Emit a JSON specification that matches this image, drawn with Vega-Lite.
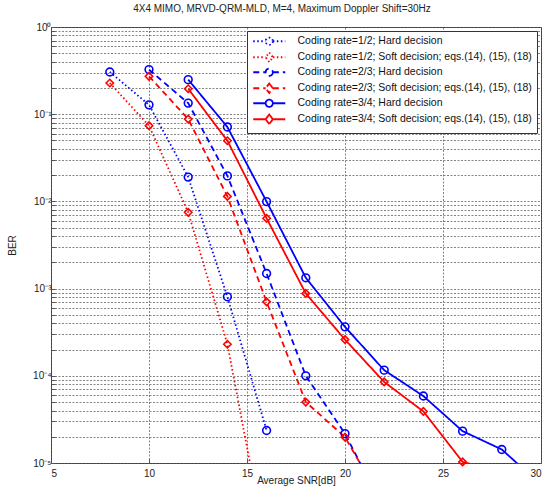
{
  "$schema": "https://vega.github.io/schema/vega-lite/v6.json",
  "width": 490,
  "height": 436,
  "autosize": {"type": "none"},
  "padding": {"left": 51, "top": 27, "right": 7, "bottom": 29},
  "background": "white",
  "title": {"text": "4X4 MIMO, MRVD-QRM-MLD, M=4, Maximum Doppler Shift=30Hz", "fontSize": 10, "font": "Liberation Sans", "fontWeight": "normal", "color": "#222", "offset": 8, "anchor": "middle", "dx": -14},
  "data": {"values": [
    {"s": "Coding rate=1/2; Hard decision", "snr": 8, "ber": 0.305},
    {"s": "Coding rate=1/2; Hard decision", "snr": 10, "ber": 0.128},
    {"s": "Coding rate=1/2; Hard decision", "snr": 12, "ber": 0.019},
    {"s": "Coding rate=1/2; Hard decision", "snr": 14, "ber": 0.000805},
    {"s": "Coding rate=1/2; Hard decision", "snr": 16, "ber": 0.0000236},
    {"s": "Coding rate=1/2; Soft decision; eqs.(14), (15), (18)", "snr": 8, "ber": 0.228},
    {"s": "Coding rate=1/2; Soft decision; eqs.(14), (15), (18)", "snr": 10, "ber": 0.0738},
    {"s": "Coding rate=1/2; Soft decision; eqs.(14), (15), (18)", "snr": 12, "ber": 0.0075},
    {"s": "Coding rate=1/2; Soft decision; eqs.(14), (15), (18)", "snr": 14, "ber": 0.00023},
    {"s": "Coding rate=1/2; Soft decision; eqs.(14), (15), (18)", "snr": 16, "ber": 0.000001},
    {"s": "Coding rate=2/3; Hard decision", "snr": 10, "ber": 0.325},
    {"s": "Coding rate=2/3; Hard decision", "snr": 12, "ber": 0.134},
    {"s": "Coding rate=2/3; Hard decision", "snr": 14, "ber": 0.0196},
    {"s": "Coding rate=2/3; Hard decision", "snr": 16, "ber": 0.00149},
    {"s": "Coding rate=2/3; Hard decision", "snr": 18, "ber": 0.0001},
    {"s": "Coding rate=2/3; Hard decision", "snr": 20, "ber": 0.0000217},
    {"s": "Coding rate=2/3; Hard decision", "snr": 22, "ber": 0.0000029},
    {"s": "Coding rate=2/3; Soft decision; eqs.(14), (15), (18)", "snr": 10, "ber": 0.272},
    {"s": "Coding rate=2/3; Soft decision; eqs.(14), (15), (18)", "snr": 12, "ber": 0.088},
    {"s": "Coding rate=2/3; Soft decision; eqs.(14), (15), (18)", "snr": 14, "ber": 0.0114},
    {"s": "Coding rate=2/3; Soft decision; eqs.(14), (15), (18)", "snr": 16, "ber": 0.000705},
    {"s": "Coding rate=2/3; Soft decision; eqs.(14), (15), (18)", "snr": 18, "ber": 0.00005},
    {"s": "Coding rate=2/3; Soft decision; eqs.(14), (15), (18)", "snr": 20, "ber": 0.0000198},
    {"s": "Coding rate=2/3; Soft decision; eqs.(14), (15), (18)", "snr": 22, "ber": 0.0000033},
    {"s": "Coding rate=3/4; Hard decision", "snr": 12, "ber": 0.249},
    {"s": "Coding rate=3/4; Hard decision", "snr": 14, "ber": 0.0713},
    {"s": "Coding rate=3/4; Hard decision", "snr": 16, "ber": 0.00995},
    {"s": "Coding rate=3/4; Hard decision", "snr": 18, "ber": 0.00133},
    {"s": "Coding rate=3/4; Hard decision", "snr": 20, "ber": 0.000364},
    {"s": "Coding rate=3/4; Hard decision", "snr": 22, "ber": 0.000116},
    {"s": "Coding rate=3/4; Hard decision", "snr": 24, "ber": 0.0000586},
    {"s": "Coding rate=3/4; Hard decision", "snr": 26, "ber": 0.0000232},
    {"s": "Coding rate=3/4; Hard decision", "snr": 28, "ber": 0.0000143},
    {"s": "Coding rate=3/4; Hard decision", "snr": 30, "ber": 0.0000056},
    {"s": "Coding rate=3/4; Soft decision; eqs.(14), (15), (18)", "snr": 12, "ber": 0.196},
    {"s": "Coding rate=3/4; Soft decision; eqs.(14), (15), (18)", "snr": 14, "ber": 0.0496},
    {"s": "Coding rate=3/4; Soft decision; eqs.(14), (15), (18)", "snr": 16, "ber": 0.0064},
    {"s": "Coding rate=3/4; Soft decision; eqs.(14), (15), (18)", "snr": 18, "ber": 0.00088},
    {"s": "Coding rate=3/4; Soft decision; eqs.(14), (15), (18)", "snr": 20, "ber": 0.00026},
    {"s": "Coding rate=3/4; Soft decision; eqs.(14), (15), (18)", "snr": 22, "ber": 0.000085},
    {"s": "Coding rate=3/4; Soft decision; eqs.(14), (15), (18)", "snr": 24, "ber": 0.000039},
    {"s": "Coding rate=3/4; Soft decision; eqs.(14), (15), (18)", "snr": 26, "ber": 0.0000103},
    {"s": "Coding rate=3/4; Soft decision; eqs.(14), (15), (18)", "snr": 28, "ber": 0.0000078}
  ]},
  "config": {
    "font": "Liberation Sans",
    "view": {"stroke": "#555", "strokeWidth": 1},
    "axis": {
      "labelFont": "Liberation Sans", "labelFontSize": 10, "labelColor": "#222",
      "titleFont": "Liberation Sans", "titleFontSize": 10, "titleFontWeight": "normal", "titleColor": "#222",
      "domain": false, "gridColor": "#333", "gridOpacity": 0.75, "gridWidth": 0.8, "gridDash": [2, 1.5],
      "tickColor": "#555", "tickSize": -4
    },
    "legend": {
      "orient": "top-right", "offset": 4, "padding": 5,
      "fillColor": "white", "strokeColor": "#333",
      "labelFont": "Liberation Sans", "labelFontSize": 10.5, "labelColor": "#111", "labelLimit": 400,
      "symbolStrokeWidth": 1.8, "symbolSize": 64, "symbolOffset": 12, "labelOffset": 23, "rowPadding": -1
    }
  },
  "encoding": {
    "x": {"field": "snr", "type": "quantitative", "scale": {"domain": [5, 30], "nice": false},
      "axis": {"title": "Average SNR[dB]", "values": [5, 10, 15, 20, 25, 30], "labelPadding": 9, "titlePadding": -3, "grid": true}},
    "y": {"field": "ber", "type": "quantitative", "scale": {"type": "log", "domain": [0.00001, 1], "nice": false},
      "axis": {"title": "BER", "titlePadding": 15, "labelPadding": 4, "grid": true,
        "values": [0.00001,0.00002,0.00003,0.00004,0.00005,0.00006,0.00007,0.00008,0.00009,0.0001,0.0002,0.0003,0.0004,0.0005,0.0006,0.0007,0.0008,0.0009,0.001,0.002,0.003,0.004,0.005,0.006,0.007,0.008,0.009,0.01,0.02,0.03,0.04,0.05,0.06,0.07,0.08,0.09,0.1,0.2,0.3,0.4,0.5,0.6,0.7,0.8,0.9,1],
        "labelExpr": "abs(log(datum.value)/LN10 - round(log(datum.value)/LN10)) > 0.001 ? '' : '10' + (round(log(datum.value)/LN10) == 0 ? '⁰' : '⁻' + ['', '¹', '²', '³', '⁴', '⁵'][-round(log(datum.value)/LN10)])"}},
    "color": {"field": "s", "type": "nominal",
      "scale": {"domain": ["Coding rate=1/2; Hard decision", "Coding rate=1/2; Soft decision; eqs.(14), (15), (18)", "Coding rate=2/3; Hard decision", "Coding rate=2/3; Soft decision; eqs.(14), (15), (18)", "Coding rate=3/4; Hard decision", "Coding rate=3/4; Soft decision; eqs.(14), (15), (18)"],
        "range": ["#0000ff", "#ff0000", "#0000ff", "#ff0000", "#0000ff", "#ff0000"]},
      "legend": {"title": null,
        "encode": {"symbols": {"update": {
          "shape": {"signal": "indexof(datum.value, 'Hard') >= 0 ? 'M-4,0H-0.9M0.9,0H4M0.9,0A0.9,0.9 0 1,1 -0.9,0A0.9,0.9 0 1,1 0.9,0' : 'M-4,0H-0.9M0.9,0H4M0,-1.2L0.9,0L0,1.2L-0.9,0Z'"},
          "fill": {"value": "transparent"}}}}}}
  },
  "layer": [
    {
      "mark": {"type": "line", "clip": true, "strokeWidth": 1.8},
      "encoding": {
        "strokeDash": {"field": "s", "type": "nominal",
          "scale": {"domain": ["Coding rate=1/2; Hard decision", "Coding rate=1/2; Soft decision; eqs.(14), (15), (18)", "Coding rate=2/3; Hard decision", "Coding rate=2/3; Soft decision; eqs.(14), (15), (18)", "Coding rate=3/4; Hard decision", "Coding rate=3/4; Soft decision; eqs.(14), (15), (18)"],
            "range": [[1.5, 2.5], [1.5, 2.5], [6, 4], [6, 4], [1, 0], [1, 0]]},
          "legend": {"title": null}}
      }
    },
    {
      "transform": [{"filter": "datum.ber >= 0.00001 && indexof(datum.s, 'Hard') >= 0"}],
      "mark": {"type": "point", "filled": false, "strokeWidth": 1.6, "size": 60, "opacity": 1, "shape": "circle"}
    },
    {
      "transform": [{"filter": "datum.ber >= 0.00001 && indexof(datum.s, 'Soft') >= 0"}],
      "mark": {"type": "point", "filled": false, "strokeWidth": 1.6, "size": 55, "opacity": 1, "shape": "diamond"}
    }
  ]
}
